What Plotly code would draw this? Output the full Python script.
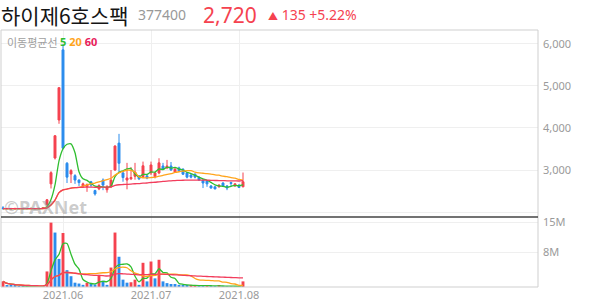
import pandas as pd
import plotly.graph_objects as go

# ---------------- data ----------------
dates = [d.strftime("%Y-%m-%d") for d in pd.bdate_range("2021-05-10", "2021-08-03")
         if d.strftime("%Y-%m-%d") not in ("2021-05-19",)]

opens = [2100, 2080, 2085, 2075, 2085, 2080, 2085, 2080, 2085, 2080, 2085,
         2170, 2670, 3285, 4190, 5860, 3160, 2905, 2865, 2760, 2620,
         2600, 2720, 2510, 2550, 2760, 2530, 2600, 3000, 3640, 2930,
         2760, 2790, 2850, 2860, 2840, 2860, 2930, 2840, 2930, 3095,
         3050, 3095, 2950, 3050, 3020, 2930, 2880, 2900, 2830, 2760,
         2740, 2620, 2600, 2600, 2690, 2620, 2700, 2620, 2640, 2600]
highs = [2140, 2095, 2095, 2090, 2090, 2090, 2090, 2090, 2095, 2090, 2110,
         2310, 2970, 3830, 4960, 6000, 3190, 3020, 2900, 2780, 2700,
         2680, 2740, 2530, 2660, 2800, 2640, 3000, 3590, 3860, 2980,
         3170, 3070, 3170, 2880, 3200, 2900, 3200, 2950, 3280, 3170,
         3240, 3190, 3050, 3080, 3040, 2950, 2900, 2920, 2840, 2770,
         2760, 2640, 2610, 2660, 2710, 2640, 2720, 2680, 2660, 2940]
lows = [2060, 2065, 2070, 2065, 2075, 2070, 2075, 2075, 2075, 2070, 2075,
        2150, 2560, 3250, 4100, 3500, 2690, 2690, 2670, 2620, 2600,
        2480, 2600, 2390, 2520, 2520, 2460, 2570, 2980, 2930, 2720,
        2540, 2760, 2770, 2760, 2810, 2780, 2880, 2800, 2900, 3000,
        3020, 2980, 2930, 2950, 2880, 2800, 2800, 2800, 2740, 2570,
        2600, 2560, 2540, 2580, 2610, 2520, 2600, 2600, 2570, 2590]
closes = [2080, 2085, 2075, 2085, 2080, 2085, 2080, 2085, 2080, 2085, 2095,
          2290, 2936, 3815, 4960, 3520, 2830, 2985, 2760, 2700, 2670,
          2650, 2640, 2430, 2630, 2640, 2600, 2760, 3570, 3160, 2820,
          2810, 2820, 2950, 2790, 3100, 2810, 3120, 2930, 3170, 3020,
          3095, 3000, 3020, 2980, 2900, 2830, 2830, 2830, 2760, 2690,
          2670, 2570, 2550, 2640, 2620, 2570, 2680, 2670, 2585, 2720]
volumes_m = [1.3, 0.35, 0.3, 0.3, 0.1, 0.08, 0.1, 0.08, 0.1, 0.09, 0.15,
             3.6, 14.9, 12.6, 6.5, 12.5, 3.9, 2.5, 1.0, 0.8, 0.5,
             1.0, 0.75, 0.6, 2.8, 1.45, 0.5, 4.5, 12.6, 7.0, 1.7,
             1.0, 1.1, 1.7, 0.5, 5.6, 1.3, 5.9, 2.0, 6.3, 1.3,
             0.9, 0.7, 0.7, 0.5, 0.3, 0.3, 0.35, 0.4, 0.3, 0.25,
             0.3, 0.2, 0.2, 0.25, 0.2, 0.2, 0.15, 0.15, 0.1, 1.3]

month_ticks = ["2021-06-01", "2021-07-01", "2021-08-02"]
month_labels = ["2021.06", "2021.07", "2021.08"]
price_ticks = [2000, 3000, 4000, 5000, 6000]
price_labels = ["", "3,000", "4,000", "5,000", "6,000"]
vol_ticks = [8, 15]
vol_labels = ["8M", "15M"]
ma_periods = [5, 20, 60]

# ---------------- styles ----------------
RED = "#f5424f"
BLUE = "#2b8ced"
MA_COLORS = {5: "#2fbe2f", 20: "#ffa41b", 60: "#f23d5c"}
GRID = "#efefef"
LABEL = "#9a9a9a"
FONT = "Noto Sans, Noto Sans CJK KR, sans-serif"
KFONT = "Noto Sans CJK KR, Noto Sans, sans-serif"

close_s = pd.Series(closes, dtype=float)
vol_s = pd.Series(volumes_m, dtype=float)
vol_colors = [RED] + [RED if volumes_m[i] > volumes_m[i - 1] else BLUE
                      for i in range(1, len(volumes_m))]

fig = go.Figure()
fig.add_trace(go.Candlestick(
    x=dates, open=opens, high=highs, low=lows, close=closes,
    xaxis="x", yaxis="y", whiskerwidth=0,
    increasing=dict(line=dict(color=RED, width=1), fillcolor=RED),
    decreasing=dict(line=dict(color=BLUE, width=1), fillcolor=BLUE),
    showlegend=False, hoverinfo="skip"))
for p in ma_periods:
    fig.add_trace(go.Scatter(
        x=dates, y=close_s.rolling(p, min_periods=1).mean(), mode="lines",
        line=dict(color=MA_COLORS[p], width=1.3, shape="spline", smoothing=0.6),
        xaxis="x", yaxis="y", showlegend=False, hoverinfo="skip"))

fig.add_trace(go.Bar(x=dates, y=volumes_m, marker=dict(color=vol_colors, line=dict(width=0)),
                     width=0.72, xaxis="x2", yaxis="y2", showlegend=False, hoverinfo="skip"))
for p in ma_periods:
    fig.add_trace(go.Scatter(
        x=dates, y=vol_s.rolling(p, min_periods=1).mean(), mode="lines",
        line=dict(color=MA_COLORS[p], width=1.3, shape="spline", smoothing=0.6),
        xaxis="x2", yaxis="y2", showlegend=False, hoverinfo="skip"))

# layout geometry (pixels)
W, H = 594, 304
ML, MR, MT, MB = 1, 56, 30, 17
PH = H - MT - MB
PW = W - ML - MR
split = (287 - 217) / PH
xr = [-0.5, -0.5 + PW / 4.0]


def px(X):
    return (X - ML) / PW


def py(Y):
    return (H - MB - Y) / PH


common_x = dict(type="category", range=xr, tickmode="array", tickvals=month_ticks,
                showgrid=True, gridcolor=GRID, gridwidth=1, zeroline=False,
                showline=False, ticks="")
fig.update_layout(
    width=W, height=H, margin=dict(l=ML, r=MR, t=MT, b=MB),
    paper_bgcolor="white", plot_bgcolor="white", bargap=0.28,
    font=dict(family=FONT, color=LABEL, size=11),
    xaxis=dict(domain=[0, 1], anchor="y", showticklabels=False,
               rangeslider=dict(visible=False), **common_x),
    xaxis2=dict(domain=[0, 1], anchor="y2", ticktext=month_labels,
                tickfont=dict(size=11, color=LABEL, family=FONT), **common_x),
    yaxis=dict(domain=[split, 1], anchor="x", side="right", range=[1881, 6333],
               tickmode="array", tickvals=price_ticks, ticktext=price_labels,
               showgrid=True, gridcolor=GRID, zeroline=False, ticks="",
               ticklabelstandoff=4, tickfont=dict(size=11, color=LABEL)),
    yaxis2=dict(domain=[0, split], anchor="x2", side="right", range=[0, 16.2],
                tickmode="array", tickvals=vol_ticks, ticktext=vol_labels,
                showgrid=True, gridcolor=GRID, zeroline=False, ticks="",
                ticklabelstandoff=4, tickfont=dict(size=11, color=LABEL)),
    shapes=[
        dict(type="rect", xref="paper", yref="paper", x0=0, x1=1, y0=0, y1=1,
             line=dict(color="#cfcfcf", width=1), layer="above"),
        dict(type="line", xref="paper", yref="paper", x0=0, x1=1, y0=split, y1=split,
             line=dict(color="#444", width=1.5), layer="above"),
    ],
)

ann = []
ann.append(dict(text="하이제6호스팩", x=px(-1), y=py(15), font=dict(size=21, color="#151515", family=KFONT)))
ann.append(dict(text="377400", x=px(136), y=py(14), font=dict(size=14, color="#999", family=FONT)))
ann.append(dict(text="2,720", x=px(201), y=py(15), font=dict(size=21, color=RED, family=FONT)))
ann.append(dict(text="<span style='font-size:10px'>▲</span> 135 +5.22%", x=px(266), y=py(14),
                font=dict(size=14, color=RED, family=FONT)))
ann.append(dict(text="이동평균선 ", x=px(5), y=py(42), font=dict(size=11, color="#a0a0a0", family=KFONT)))
ann.append(dict(text="<b><span style='color:%s'>5</span> <span style='color:%s'>20</span> "
                     "<span style='color:%s'>60</span></b>" % (MA_COLORS[5], MA_COLORS[20], "#e8205a"),
                x=px(58), y=py(42), font=dict(size=11, family=FONT)))
ann.append(dict(text="<b>©PAXNet</b>", x=px(2), y=py(207),
                font=dict(size=18, color="rgba(140,140,140,0.45)", family=FONT)))
for a in ann:
    a.update(xref="paper", yref="paper", xanchor="left", yanchor="middle", showarrow=False)
fig.update_layout(annotations=ann)

fig.write_html("out.html")
